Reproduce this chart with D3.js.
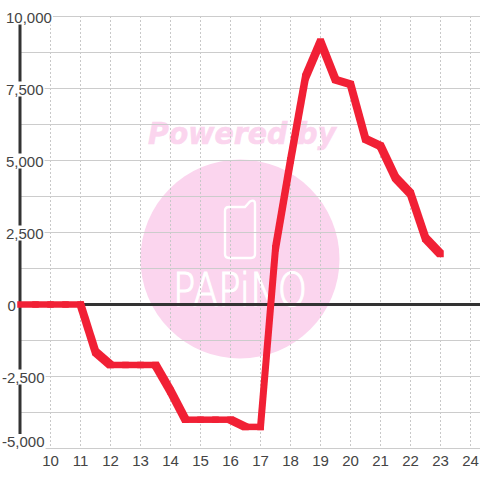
<!DOCTYPE html>
<html><head><meta charset="utf-8">
<script src="https://cdnjs.cloudflare.com/ajax/libs/d3/7.8.5/d3.min.js"></script>
<style>html,body{margin:0;padding:0;background:#fff}svg{display:block}</style></head>
<body><svg id="c" width="480" height="480"></svg>
<script>
const hours=[9,9.5,10,10.5,11,11.5,12,12.5,13,13.5,14,14.5,15,15.5,16,16.5,17,17.5,18,18.5,19,19.5,20,20.5,21,21.5,22,22.5,23];
const values=[0,0,0,0,0,-1650,-2100,-2100,-2100,-2100,-3000,-4000,-4000,-4000,-4000,-4250,-4250,1950,5000,7900,9120,7800,7650,5750,5500,4400,3850,2300,1750];
const xTicks=[10,11,12,13,14,15,16,17,18,19,20,21,22,23,24];
const yLabelled=[10000,7500,5000,2500,0,-2500,-5000];
const yMinor=[8750,6250,3750,1250,-1250,-3750];
const fmt=d=>d3.format(",")(d).replace("\u2212","-");
const x=d3.scaleLinear().domain([9,25]).range([20.5,500.5]);
const y=d3.scaleLinear().domain([-5000,10000]).range([448.5,16.5]);
const svg=d3.select("#c");
const font="'Liberation Sans',Arial,sans-serif";
const pink="#fbd5ee";
const wm=svg.append("g");
wm.append("circle").attr("cx",240).attr("cy",259).attr("r",99.5).attr("fill",pink);
wm.append("text").attr("x",148).attr("y",144).attr("font-family","'DejaVu Sans',sans-serif").attr("font-size",30).attr("font-weight","bold").attr("font-style","italic").attr("textLength",188).attr("lengthAdjust","spacingAndGlyphs").attr("fill",pink).attr("stroke",pink).attr("stroke-width",0.6).text("Powered by");
wm.append("path").attr("d","M229 207 H245 L250 201.5 Q255 199 255 204 V254 Q255 258 251 258 H229 Q225 258 225 254 V211 Q225 207 229 207 Z").attr("fill","none").attr("stroke","#fff").attr("stroke-width",2.4);
wm.append("text").attr("x",173).attr("y",306).attr("font-family","'DejaVu Sans',sans-serif").attr("font-weight",200).attr("font-size",46).attr("textLength",134).attr("lengthAdjust","spacingAndGlyphs").attr("fill","#fff").attr("stroke","#fff").attr("stroke-width",1.2).text("PAPiNO");
const g=svg.append("g");
g.selectAll("line.v").data(xTicks).join("line").attr("class","v")
 .attr("x1",d=>x(d)).attr("x2",d=>x(d)).attr("y1",16).attr("y2",448)
 .attr("stroke","#c8c8c8").attr("stroke-dasharray","2 2").attr("stroke-width",1);
g.selectAll("line.h").data(yMinor.concat(yLabelled.filter(d=>d!==0))).join("line").attr("class","h")
 .attr("x1",x(9)).attr("x2",480).attr("y1",d=>y(d)).attr("y2",d=>y(d))
 .attr("stroke","#cccccc").attr("stroke-width",1);
svg.append("line").attr("x1",20).attr("x2",20).attr("y1",y(10000)).attr("y2",y(-5000)).attr("stroke","#333").attr("stroke-width",3);
svg.append("line").attr("x1",20).attr("x2",480).attr("y1",y(0)).attr("y2",y(0)).attr("stroke","#333").attr("stroke-width",3);
// label plates hide the axis and grid behind each tick label
const labelX=d=>d<0?2:d===0?7.5:6;
const t=svg.append("g").attr("font-family",font).attr("font-size",15).attr("fill","#444");
const yl=t.selectAll("text.y").data(yLabelled).join("text").attr("class","y")
 .attr("x",labelX).attr("y",d=>d===-5000?y(d)-1.5:y(d)+6).text(fmt);
yl.each(function(d){const b=this.getBBox();
 t.insert("rect","text").attr("x",b.x).attr("y",b.y+1).attr("width",b.width+1).attr("height",b.height-2).attr("fill","#fff");});
t.selectAll("text.x").data(xTicks).join("text").attr("class","x").attr("x",d=>x(d)).attr("y",466).attr("text-anchor","middle").text(d=>d);
// square-brush line: each segment is the hull of a square swept along it
const s=3.25;
const pts=hours.map((h,i)=>[x(h),y(values[i])]);
const shape=d3.line();
svg.append("g").attr("fill","#f12035").selectAll("path").data(d3.pairs(pts)).join("path")
 .attr("d",([a,b])=>shape(d3.polygonHull([a,b].flatMap(p=>[[p[0]-s,p[1]-s],[p[0]+s,p[1]-s],[p[0]+s,p[1]+s],[p[0]-s,p[1]+s]])))+"Z");
</script></body></html>
